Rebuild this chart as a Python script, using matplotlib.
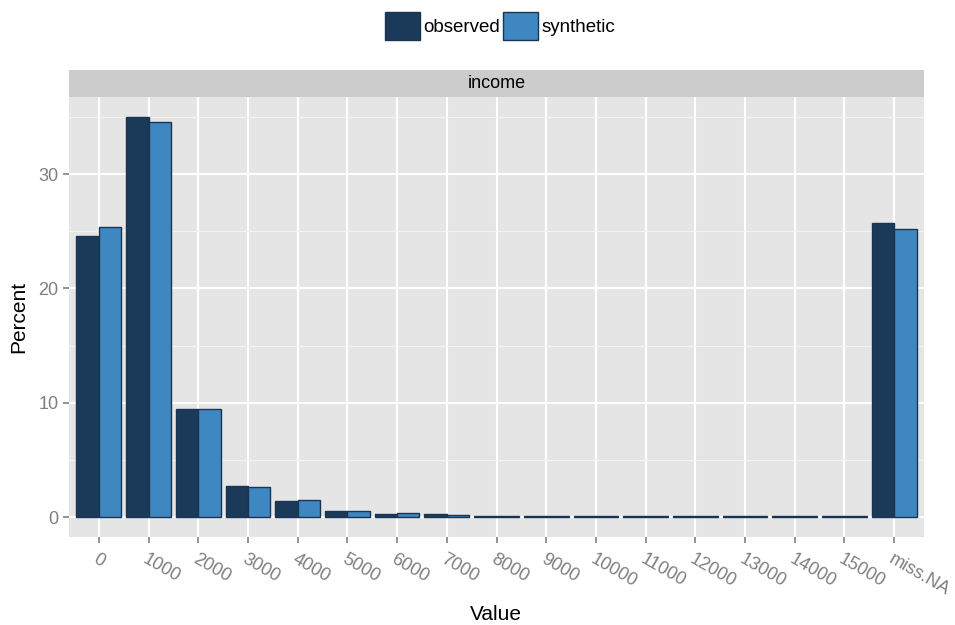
import matplotlib.pyplot as plt
from matplotlib.patches import Rectangle
import numpy as np

plt.rcParams['font.family'] = ['Liberation Sans', 'DejaVu Sans']

# Categories and percentages
categories = ['0', '1000', '2000', '3000', '4000', '5000', '6000', '7000',
              '8000', '9000', '10000', '11000', '12000', '13000', '14000',
              '15000', 'miss.NA']
observed = [24.6, 35.0, 9.45, 2.7, 1.4, 0.5, 0.3, 0.23, 0.12, 0.13, 0.1,
            0.06, 0.05, 0.05, 0.12, 0.06, 25.75]
synthetic = [25.35, 34.6, 9.45, 2.65, 1.5, 0.5, 0.35, 0.18, 0.1, 0.1, 0.08,
             0.06, 0.05, 0.05, 0.12, 0.06, 25.2]

col_obs = '#1b3a5a'
col_syn = '#3f87c1'
col_edge = '#1a3552'
grey_txt = '#7f7f7f'

fig = plt.figure(figsize=(9.55, 6.25), dpi=100)
ax = fig.add_axes([69 / 955, 1 - 537 / 625, (924 - 69) / 955, (537 - 97) / 625])

x = np.arange(1, len(categories) + 1)
w = 0.45
ax.set_facecolor('#e5e5e5')
ax.bar(x - w / 2, observed, width=w, color=col_obs, edgecolor=col_edge,
       linewidth=1.0, zorder=3, label='observed')
ax.bar(x + w / 2, synthetic, width=w, color=col_syn, edgecolor=col_edge,
       linewidth=1.0, zorder=3, label='synthetic')

ax.set_xlim(0.4, len(categories) + 0.6)
ax.set_ylim(-1.75, 36.75)
ax.set_yticks([0, 10, 20, 30])
ax.set_yticks([5, 15, 25, 35], minor=True)
ax.set_xticks(x)
ax.set_xticklabels(categories, rotation=-30, ha='left', va='top',
                   rotation_mode='anchor')
ax.grid(True, which='major', color='white', linewidth=1.5, zorder=0)
ax.grid(True, which='minor', axis='y', color='#f2f2f2', linewidth=0.8, zorder=0)
ax.set_axisbelow(True)
for s in ax.spines.values():
    s.set_visible(False)
ax.tick_params(axis='both', which='major', colors=grey_txt, labelsize=13,
               length=4, width=1.2)
ax.tick_params(axis='x', pad=6)
ax.tick_params(which='minor', length=0)

# axis titles placed like the reference
fig.text(19 / 955, 1 - 317 / 625, 'Percent', rotation=90, ha='center',
         va='center', fontsize=15)
fig.text(496 / 955, 1 - 620 / 625, 'Value', ha='center', va='baseline',
         fontsize=15)

# facet strip
strip_h = 27 / 440
ax.add_patch(Rectangle((0, 1), 1, strip_h, transform=ax.transAxes,
                       facecolor='#cccccc', edgecolor='none', clip_on=False))
ax.text(0.5, 1 + strip_h / 2, 'income', transform=ax.transAxes,
        ha='center', va='center', fontsize=13)

fig.legend(loc='center', bbox_to_anchor=(500 / 955, 1 - 26 / 625), ncol=2,
           frameon=False, fontsize=13.5, handlelength=1.85, handleheight=1.85,
           handletextpad=0.2, columnspacing=0.15, borderpad=0)

fig.savefig('out.png', dpi=100)
